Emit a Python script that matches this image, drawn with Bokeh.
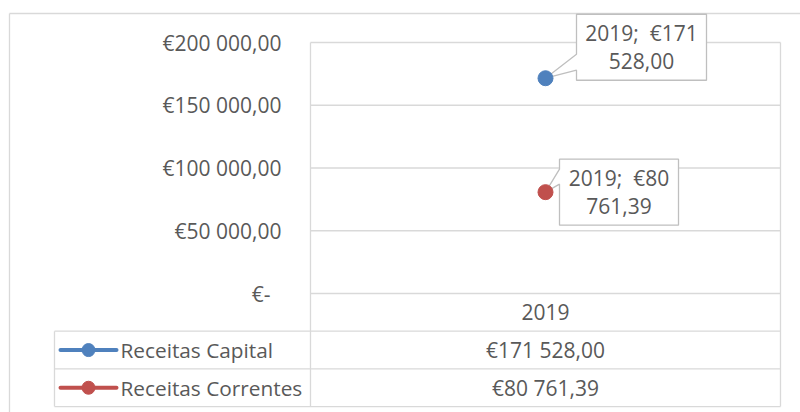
from bokeh.plotting import figure
from bokeh.models import Range1d
from bokeh.core.properties import value
from bokeh.embed import file_html
from bokeh.resources import INLINE

# ---------------- data ----------------
categories = ["2019"]
series_names = ["Receitas Capital", "Receitas Correntes"]
receitas_capital = [171528.00]
receitas_correntes = [80761.39]
y_ticks = [0, 50000, 100000, 150000, 200000]
y_tick_labels = ["€-", "€50 000,00", "€100 000,00", "€150 000,00", "€200 000,00"]

series_values = [receitas_capital, receitas_correntes]
series_colors = ["#4F81BD", "#C0504D"]


def fmt_eur(v):
    if v == 0:
        return "€-"
    s = f"{v:,.2f}"
    return "€" + s.replace(",", " ").replace(".", ",")


# ---------------- layout (pixels) ----------------
W, H = 800, 412
PA_L, PA_R, PA_T, PA_B = 310, 780, 42, 293      # plot area
PA_W, PA_H = PA_R - PA_L, PA_B - PA_T
YMAX = y_ticks[-1]
ROW_H = 37.7                                    # data-table row height
TABLE_L = 54                                    # legend column left edge
BORDER_L, BORDER_T = 9, 13                      # chart-area border
FONT = value("Open Sans")
FS = "21px"
TXT = "#595959"
GRID = "#d9d9d9"


def X(px):
    return (px - PA_L) / PA_W


def Y(py):
    return (PA_B - py) / PA_H * YMAX


def DX(dpx):
    return dpx / PA_W


def DY(dpy):
    return -dpy / PA_H * YMAX


p = figure(width=W, height=H, output_backend="svg", toolbar_location=None,
           x_range=Range1d(X(0), X(W)), y_range=Range1d(Y(H), Y(0)),
           x_axis_location=None, y_axis_location=None, min_border=0)
p.min_border_left = p.min_border_right = p.min_border_top = p.min_border_bottom = 0
p.grid.visible = False
p.outline_line_color = None
p.background_fill_color = "white"
p.border_fill_color = "white"

# chart-area border (top & left visible in window)
p.segment(x0=[X(BORDER_L), X(BORDER_L)], y0=[Y(BORDER_T), Y(BORDER_T)],
          x1=[X(W + 5), X(BORDER_L)], y1=[Y(BORDER_T), Y(H + 5)],
          line_color=GRID, line_width=1.3)

# horizontal gridlines from the y ticks
p.segment(x0=[X(PA_L)] * len(y_ticks), x1=[X(PA_R)] * len(y_ticks),
          y0=y_ticks, y1=y_ticks, line_color=GRID, line_width=1.3)

n_rows = 1 + len(series_names)
table_bottom = PA_B + n_rows * ROW_H

# vertical borders of the plot area / table columns
p.segment(x0=[X(PA_L), X(PA_R)], x1=[X(PA_L), X(PA_R)],
          y0=[Y(PA_T)] * 2, y1=[Y(table_bottom)] * 2, line_color=GRID, line_width=1.3)
p.segment(x0=[X(TABLE_L)], x1=[X(TABLE_L)], y0=[Y(PA_B + ROW_H)], y1=[Y(table_bottom)],
          line_color=GRID, line_width=1.3)
# table row lines
row_lines = [PA_B + ROW_H * k for k in range(1, n_rows + 1)]
p.segment(x0=[X(TABLE_L)] * len(row_lines), x1=[X(PA_R)] * len(row_lines),
          y0=[Y(r) for r in row_lines], y1=[Y(r) for r in row_lines],
          line_color=GRID, line_width=1.3)

# y tick labels
label_offsets = [-11 if t == "€-" else 0 for t in y_tick_labels]
p.text(x=[X(PA_L - 29)] * len(y_ticks), y=y_ticks, text=y_tick_labels,
       x_offset=label_offsets, text_align="right", text_baseline="middle",
       text_font=FONT, text_font_size=FS, text_color=TXT)

# category positions
cat_x = [(i + 0.5) / len(categories) for i in range(len(categories))]

# category row
p.text(x=cat_x, y=[Y(PA_B + ROW_H / 2)] * len(categories), text=categories,
       text_align="center", text_baseline="middle", text_font=FONT,
       text_font_size=FS, text_color=TXT)

# data labels (callouts) geometry in pixels relative to the point
callouts = [
    dict(left=31, right=161, top=-64, bottom=2, base_top=-24, base_bot=-8),
    dict(left=14, right=133, top=-33, bottom=33, base_top=-23, base_bot=-8),
]

for s, (name, vals, col, co) in enumerate(zip(series_names, series_values, series_colors, callouts)):
    row_c = PA_B + ROW_H * (s + 1) + ROW_H / 2
    # legend key in data table
    kx0, kx1 = TABLE_L + 6, TABLE_L + 62
    p.line(x=[X(kx0), X(kx1)], y=[Y(row_c)] * 2, line_color=col, line_width=4, line_cap="round")
    p.scatter(x=[X((kx0 + kx1) / 2)], y=[Y(row_c)], size=13, fill_color=col, line_color=col)
    p.text(x=[X(kx1 + 4)], y=[Y(row_c)], text=[name], text_align="left", text_baseline="middle",
           text_font=FONT, text_font_size="20.8px", text_color=TXT)
    # values in data table
    p.text(x=cat_x, y=[Y(row_c)] * len(vals), text=[fmt_eur(v) for v in vals],
           text_align="center", text_baseline="middle", text_font=FONT,
           text_font_size=FS, text_color=TXT)

    for cx, v, cat in zip(cat_x, vals, categories):
        L, R, T, B = co["left"], co["right"], co["top"], co["bottom"]
        bt, bb = co["base_top"], co["base_bot"]
        xs = [cx + DX(d) for d in (L, R, R, L, L, 0, L, L)]
        ys = [v + DY(d) for d in (T, T, B, B, bb, 0, bt, T)]
        p.patch(x=xs, y=ys, fill_color="white", line_color="#bfbfbf", line_width=1.3)
        label = f"{cat}; \u00a0{fmt_eur(v)}"
        head, tail = label.rsplit(" ", 1)
        mid = (T + B) / 2
        p.text(x=[cx + DX((L + R) / 2)] * 2, y=[v + DY(mid - 14), v + DY(mid + 14)],
               text=[head, tail], text_align="center", text_baseline="middle",
               text_font=FONT, text_font_size=FS, text_color=TXT)

    # the series itself (line + markers)
    p.line(x=cat_x, y=vals, line_color=col, line_width=3)
    p.scatter(x=cat_x, y=vals, size=15, fill_color=col, line_color=col)

open("out.html", "w").write(file_html(p, INLINE))
